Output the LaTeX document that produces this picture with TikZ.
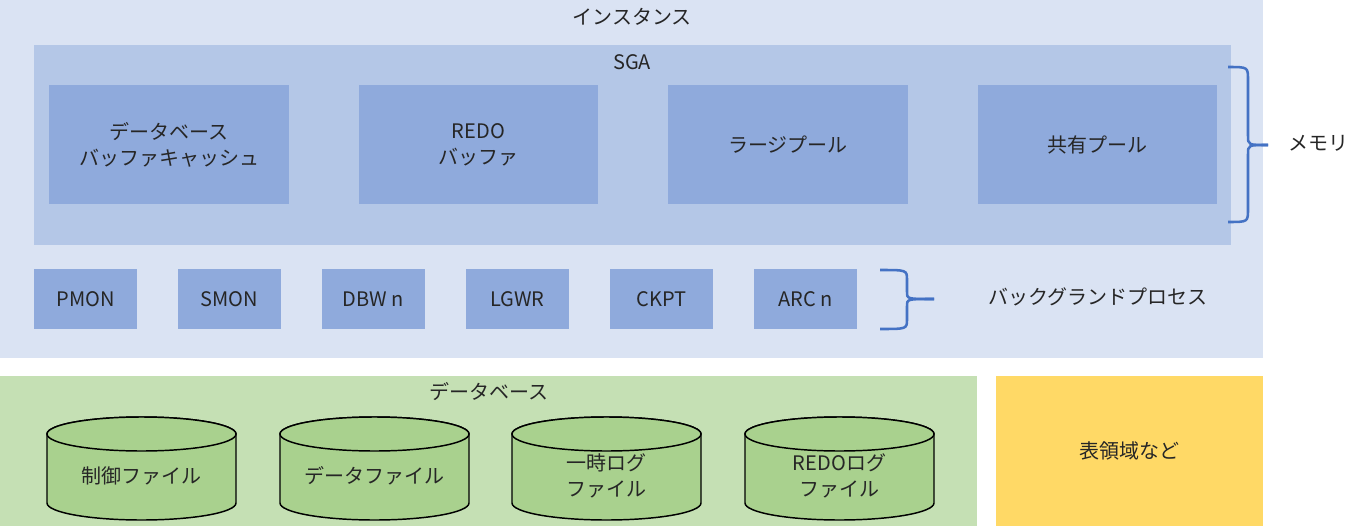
\documentclass[tikz,border=0pt]{standalone}
\usepackage{fontspec}
\setmainfont{Noto Sans CJK JP}
\usetikzlibrary{positioning}
\definecolor{instbg}{HTML}{DAE3F3}
\definecolor{sgabg}{HTML}{B4C7E7}
\definecolor{boxblue}{HTML}{8FAADC}
\definecolor{dbbg}{HTML}{C5E0B4}
\definecolor{cylgreen}{HTML}{A9D18E}
\definecolor{tsyellow}{HTML}{FFD966}
\definecolor{bracecol}{HTML}{4472C4}
\tikzset{sbox/.style={fill=boxblue, minimum width=179.6pt, minimum height=89.25pt, inner sep=0pt, outer sep=0pt, align=center},
  pbox/.style={fill=boxblue, minimum width=77.25pt, minimum height=45pt, inner sep=0pt, outer sep=0pt},
  cyl/.style={fill=cylgreen, draw=black, line width=1.1pt},
  brc/.style={draw=bracecol, line width=1.9pt},
  lbl/.style={inner sep=0pt, align=center}}

\begin{document}
\begin{tikzpicture}[x=0.75pt, y=-0.75pt, font=\fontsize{15}{19.5}\selectfont, text=black!85]
  \useasboundingbox (0,0) rectangle (1349,528);
  % background areas
  \fill[instbg] (0,0) rectangle (1263,358);
  \fill[sgabg] (34,45) rectangle (1231,245);
  \fill[dbbg] (0,376) rectangle (977,526);
  \node[lbl] (inst) at (632,17) {インスタンス};
  \node[lbl] (sga) at (632,62) {SGA};
  \node[lbl] (db) at (489,392) {データベース};
  % SGA row
  \node[sbox] (dbc) at (169,144.5) {データベース\\バッファキャッシュ};
  \node[sbox, right=52.5pt of dbc] (redo) {REDO\\バッファ};
  \node[sbox, right=52.5pt of redo] (large) {ラージプール};
  \node[sbox, right=52.5pt of large] (shared) {共有プール};
  % background processes
  \node[pbox] (pmon) at (85.5,299) {PMON};
  \node[pbox, right=30.75pt of pmon] (smon) {SMON};
  \node[pbox, right=30.75pt of smon] (dbw) {DBW n};
  \node[pbox, right=30.75pt of dbw] (lgwr) {LGWR};
  \node[pbox, right=30.75pt of lgwr] (ckpt) {CKPT};
  \node[pbox, right=30.75pt of ckpt] (arc) {ARC n};
  % braces
  \draw[brc] (1228,67) .. controls (1248,67) .. (1248,80) -- (1248,136) .. controls (1248,145) .. (1268,145);
  \draw[brc] (1228,222) .. controls (1248,222) .. (1248,209) -- (1248,154) .. controls (1248,145) .. (1268,145);
  \draw[brc] (880,270) .. controls (907,270) .. (907,280) -- (907,292) .. controls (907,299) .. (934,299);
  \draw[brc] (880,329) .. controls (907,329) .. (907,319) -- (907,306) .. controls (907,299) .. (934,299);
  \node[lbl] (mem) at (1318,143) {メモリ};
  \node[lbl] (bgp) at (1098,297) {バックグランドプロセス};
  % data files as cylinders
  \foreach \n/\x/\t in {ctl/141.5/制御ファイル, dat/374.5/データファイル, tmp/606.5/一時ログ\\ファイル, rlog/839.5/REDOログ\\ファイル}{
    \draw[cyl] (\x-94.5,434) -- (\x-94.5,503) arc[start angle=180, end angle=0, x radius=94.5, y radius=17]
      -- (\x+94.5,434) arc[start angle=0, end angle=-180, x radius=94.5, y radius=17] -- cycle;
    \draw[cyl] (\x,434) ellipse[x radius=94.5, y radius=17];
    \node[lbl] (\n) at (\x,476) {\t};}
  \node[fill=tsyellow, minimum width=200.25pt, minimum height=112.5pt, inner sep=0pt] (ts) at (1129.5,451) {表領域など};
\end{tikzpicture}
\end{document}
